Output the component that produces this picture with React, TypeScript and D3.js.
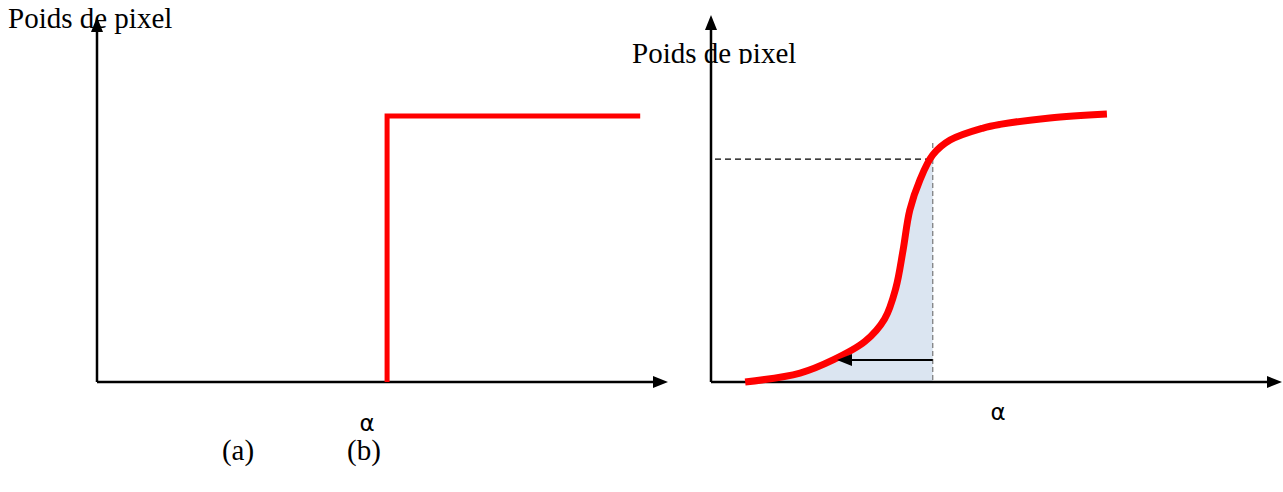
import React from "react";
import * as d3 from "d3";

// Left panel: hard threshold (step)
const stepAlpha = [5.18, 5.18, 9.7];
const stepWeight = [0, 0.95, 0.95];

// Right panel: soft (sigmoid-like) weight curve
const curveAlpha = [0.61, 1.59, 2.18, 2.75, 3.1, 3.3, 3.43, 3.55, 3.73, 3.96, 4.27, 4.86, 5.16, 6.05, 7.07];
const curveWeight = [0.0, 0.032, 0.079, 0.145, 0.225, 0.335, 0.471, 0.614, 0.721, 0.811, 0.864, 0.907, 0.92, 0.943, 0.957];

const thresholdAlpha = 3.96;
const thresholdWeight = 0.796;
const arrowWeight = 0.079;
const arrowTipAlpha = 2.25;

const yLabel = "Poids de pixel";
const xLabel = "α";
const captions = ["(a)", "(b)"];

const W = 1283;
const H = 492;
const FONT = "'Liberation Serif', 'Times New Roman', serif";
const ALPHA_FONT = "'DejaVu Sans', 'Liberation Sans', sans-serif";

export default function App() {
  // Left scales
  const xL = d3.scaleLinear().domain([0, 10]).range([97, 657]);
  const yL = d3.scaleLinear().domain([0, 1]).range([382, 102]);
  // Right scales
  const xR = d3.scaleLinear().domain([0, 10]).range([711, 1271]);
  const yR = d3.scaleLinear().domain([0, 1]).range([382, 102]);

  const stepPts: [number, number][] = stepAlpha.map((a, i) => [xL(a), yL(stepWeight[i])]);
  const stepPath = d3.line()(stepPts) || "";

  const curvePts: [number, number][] = curveAlpha.map((a, i) => [xR(a), yR(curveWeight[i])]);
  const lineGen = d3.line().curve(d3.curveCatmullRom.alpha(0.5));
  const curvePath = lineGen(curvePts) || "";

  // Area under curve up to threshold
  const areaIdx = curveAlpha.findIndex((a) => a >= thresholdAlpha);
  const areaPts: [number, number][] = curvePts.slice(0, areaIdx + 1);
  const areaGen = d3
    .area()
    .curve(d3.curveCatmullRom.alpha(0.5))
    .y0(yR(0))
    .y1((d) => d[1]);
  const areaPath = areaGen(areaPts) || "";

  const axisW = 2.5;
  const arrowHead = (x: number, y: number, dir: "up" | "right" | "left") => {
    const L = 15,
      Wd = 6;
    let pts: number[][];
    if (dir === "up") pts = [[x, y], [x - Wd, y + L], [x + Wd, y + L]];
    else if (dir === "right") pts = [[x, y], [x - L, y - Wd], [x - L, y + Wd]];
    else pts = [[x, y], [x + L, y - Wd], [x + L, y + Wd]];
    return <polygon points={pts.map((p) => p.join(",")).join(" ")} fill="#000" />;
  };

  return (
    <svg width={W} height={H} style={{ position: "absolute", left: 0, top: 0, background: "#fff" }}>
      <defs>
        <clipPath id="clipTop">
          <rect x={0} y={0} width={W} height={64} />
        </clipPath>
        <clipPath id="clipAlpha">
          <rect x={0} y={0} width={W} height={431} />
        </clipPath>
      </defs>
      <rect x={0} y={0} width={W} height={H} fill="#fff" />

      {/* Left panel */}
      <g>
        <line x1={xL(0)} y1={yL(0)} x2={xL(0)} y2={28} stroke="#000" strokeWidth={axisW} />
        {arrowHead(xL(0), 17, "up")}
        <line x1={xL(0)} y1={yL(0)} x2={655} y2={yL(0)} stroke="#000" strokeWidth={axisW} />
        {arrowHead(668, yL(0), "right")}
        <path d={stepPath} fill="none" stroke="#ff0000" strokeWidth={5} strokeLinejoin="miter" />
        <text x={8} y={28} fontFamily={FONT} fontSize={29} fill="#000">
          {yLabel}
        </text>
        <text x={367} y={431} fontFamily={ALPHA_FONT} fontSize={23} textAnchor="middle" clipPath="url(#clipAlpha)">
          {xLabel}
        </text>
      </g>

      {/* Right panel */}
      <g>
        <path d={areaPath} fill="#dbe5f1" />
        <line x1={xR(thresholdAlpha)} y1={143} x2={xR(thresholdAlpha)} y2={yR(0)} stroke="#777" strokeWidth={1.2} strokeDasharray="5,3" />
        <line x1={715} y1={yR(thresholdWeight)} x2={xR(thresholdAlpha)} y2={yR(thresholdWeight)} stroke="#000" strokeWidth={1.2} strokeDasharray="6,4" />
        <line x1={xR(0)} y1={yR(0)} x2={xR(0)} y2={28} stroke="#000" strokeWidth={axisW} />
        {arrowHead(xR(0), 15, "up")}
        <line x1={xR(0)} y1={yR(0)} x2={1270} y2={yR(0)} stroke="#000" strokeWidth={axisW} />
        {arrowHead(1282, yR(0), "right")}
        <path d={curvePath} fill="none" stroke="#ff0000" strokeWidth={7} strokeLinecap="butt" />
        <line x1={xR(thresholdAlpha)} y1={yR(arrowWeight)} x2={xR(arrowTipAlpha) + 12} y2={yR(arrowWeight)} stroke="#000" strokeWidth={2} />
        {arrowHead(xR(arrowTipAlpha), yR(arrowWeight), "left")}
        <text x={632} y={63} fontFamily={FONT} fontSize={29} fill="#000" clipPath="url(#clipTop)">
          {yLabel}
        </text>
        <text x={998} y={420} fontFamily={ALPHA_FONT} fontSize={23} textAnchor="middle">
          {xLabel}
        </text>
      </g>

      <text x={238} y={460} fontFamily={FONT} fontSize={29} textAnchor="middle">
        {captions[0]}
      </text>
      <text x={364} y={460} fontFamily={FONT} fontSize={29} textAnchor="middle">
        {captions[1]}
      </text>
    </svg>
  );
}
